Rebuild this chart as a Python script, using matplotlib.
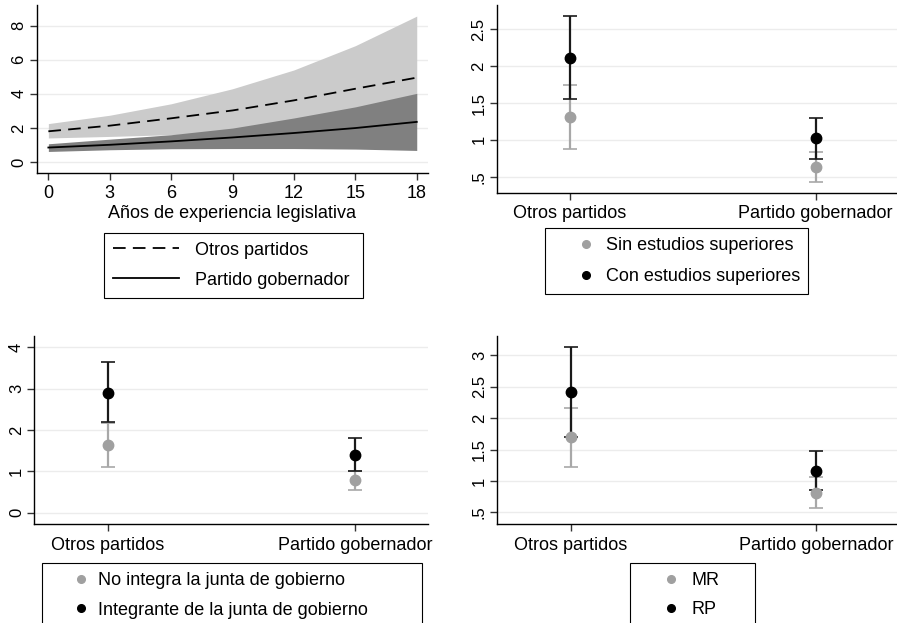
import numpy as np
import matplotlib.pyplot as plt

plt.rcParams['font.family'] = ['Liberation Sans', 'DejaVu Sans']
plt.rcParams['font.size'] = 13

# panel 1: predicted values vs years of experience
years = [0, 3, 6, 9, 12, 15, 18]
otros_mid = [1.81, 2.14, 2.57, 3.03, 3.62, 4.3, 4.95]
otros_hi = [2.26, 2.75, 3.42, 4.3, 5.4, 6.82, 8.55]
otros_lo = [1.42, 1.51, 1.61, 1.75, 1.9, 2.05, 2.2]
gob_mid = [0.86, 1.02, 1.22, 1.45, 1.71, 2.0, 2.36]
gob_hi = [1.08, 1.35, 1.61, 2.0, 2.59, 3.24, 4.03]
gob_lo = [0.63, 0.73, 0.79, 0.8, 0.8, 0.77, 0.69]

cats = ['Otros partidos', 'Partido gobernador']

# panels 2-4: point estimates with confidence intervals (gray group, black group)
estudios_gray = [1.305, 0.631]
estudios_gray_lo = [0.871, 0.428]
estudios_gray_hi = [1.74, 0.83]
estudios_black = [2.11, 1.02]
estudios_black_lo = [1.554, 0.744]
estudios_black_hi = [2.676, 1.292]

junta_gray = [1.63, 0.78]
junta_gray_lo = [1.11, 0.55]
junta_gray_hi = [2.17, 1.0]
junta_black = [2.90, 1.395]
junta_black_lo = [2.19, 1.0]
junta_black_hi = [3.64, 1.81]

mr_gray = [1.697, 0.81]
mr_gray_lo = [1.223, 0.574]
mr_gray_hi = [2.17, 1.06]
rp_black = [2.42, 1.16]
rp_black_lo = [1.70, 0.85]
rp_black_hi = [3.138, 1.473]

W, H = 897, 623
fig = plt.figure(figsize=(W / 100, H / 100), dpi=100)

def px_axes(l, t, r, b):
    return fig.add_axes([l / W, 1 - b / H, (r - l) / W, (b - t) / H])

def style(ax, yticks, ylabels):
    for s in ['top', 'right']:
        ax.spines[s].set_visible(False)
    ax.spines['left'].set_linewidth(1.0)
    ax.spines['bottom'].set_linewidth(1.0)
    ax.set_yticks(yticks)
    ax.set_yticklabels(ylabels, rotation=90, va='center')
    ax.tick_params(length=5, width=1, color='#333333')
    ax.tick_params(axis='x', pad=4, labelsize=13)
    ax.tick_params(axis='y', pad=2.5, labelsize=12)
    ax.grid(axis='y', color='#ececec', lw=1)
    ax.set_axisbelow(True)

GRAY = '#a0a0a0'
BLACK = '#000000'

def legend_box(handles, labels, l, t, r, b, hl, htp, ls):
    leg = fig.legend(handles, labels, loc='upper left',
                     bbox_to_anchor=(l / W, 1 - b / H, (r - l) / W, (b - t) / H),
                     mode='expand', borderaxespad=0, fancybox=False, edgecolor='black',
                     framealpha=1, handlelength=hl, handletextpad=htp, borderpad=0.5,
                     labelspacing=ls, fontsize=13)
    leg.get_frame().set_linewidth(0.8)

# ---- panel 1
ax1 = px_axes(36.7, 5, 428, 173)
ax1.fill_between(years, otros_lo, otros_hi, color='#cbcbcb', lw=0)
ax1.fill_between(years, gob_lo, gob_hi, color='#808080', lw=0)
l1, = ax1.plot(years, otros_mid, color='black', lw=1.3, ls=(0, (7, 4)))
l2, = ax1.plot(years, gob_mid, color='black', lw=1.3)
ax1.set_xlim(-0.57, 18.55)
ax1.set_ylim(-0.63, 9.2)
ax1.set_xticks(years)
style(ax1, [0, 2, 4, 6, 8], ['0', '2', '4', '6', '8'])
ax1.set_xlabel('Años de experiencia legislativa', labelpad=2)
legend_box([l1, l2], ['Otros partidos', 'Partido gobernador'], 104, 232.7, 363, 293,
           3.66, 0.89, 0.72)

def ci_panel(ax, g, glo, ghi, k, klo, khi):
    x = np.arange(len(cats))
    ax.errorbar(x, g, yerr=[np.array(g) - glo, np.array(ghi) - g], fmt='o',
                color=GRAY, ecolor='#a8a8a8', elinewidth=1.6, capsize=5, capthick=1.2, ms=7.5)
    ax.errorbar(x, k, yerr=[np.array(k) - klo, np.array(khi) - k], fmt='o',
                color=BLACK, ecolor='#1a1a1a', elinewidth=1.6, capsize=5, capthick=1.2, ms=7.5)
    ax.set_xticks(x)
    ax.set_xticklabels(cats)
    hg = plt.Line2D([], [], marker='o', ls='none', color=GRAY, ms=5.5)
    hk = plt.Line2D([], [], marker='o', ls='none', color=BLACK, ms=5.5)
    return hg, hk

# ---- panel 2
ax2 = px_axes(496.7, 5, 897, 192.7)
hg, hk = ci_panel(ax2, estudios_gray, estudios_gray_lo, estudios_gray_hi,
                  estudios_black, estudios_black_lo, estudios_black_hi)
ax2.set_xlim(-0.2985, 1.331)
ax2.set_ylim(0.283, 2.83)
style(ax2, [0.5, 1, 1.5, 2, 2.5], ['.5', '1', '1.5', '2', '2.5'])
legend_box([hg, hk], ['Sin estudios superiores', 'Con estudios superiores'], 545, 228, 808, 293,
           3.54, -0.66, 0.8)

# ---- panel 3
ax3 = px_axes(34.3, 336, 428.3, 524)
hg, hk = ci_panel(ax3, junta_gray, junta_gray_lo, junta_gray_hi,
                  junta_black, junta_black_lo, junta_black_hi)
ax3.set_xlim(-0.296, 1.296)
ax3.set_ylim(-0.274, 4.27)
style(ax3, [0, 1, 2, 3, 4], ['0', '1', '2', '3', '4'])
legend_box([hg, hk], ['No integra la junta de gobierno', 'Integrante de la junta de gobierno'],
           41.7, 563.3, 421.7, 625, 3.3, -0.66, 0.69)

# ---- panel 4
ax4 = px_axes(497.3, 336, 897, 524)
hg, hk = ci_panel(ax4, mr_gray, mr_gray_lo, mr_gray_hi,
                  rp_black, rp_black_lo, rp_black_hi)
ax4.set_xlim(-0.2985, 1.331)
ax4.set_ylim(0.314, 3.31)
style(ax4, [0.5, 1, 1.5, 2, 2.5, 3], ['.5', '1', '1.5', '2', '2.5', '3'])
legend_box([hg, hk], ['MR', 'RP'], 630.3, 563, 755, 625, 3.5, -0.62, 0.69)

fig.savefig('out.png', dpi=100)
